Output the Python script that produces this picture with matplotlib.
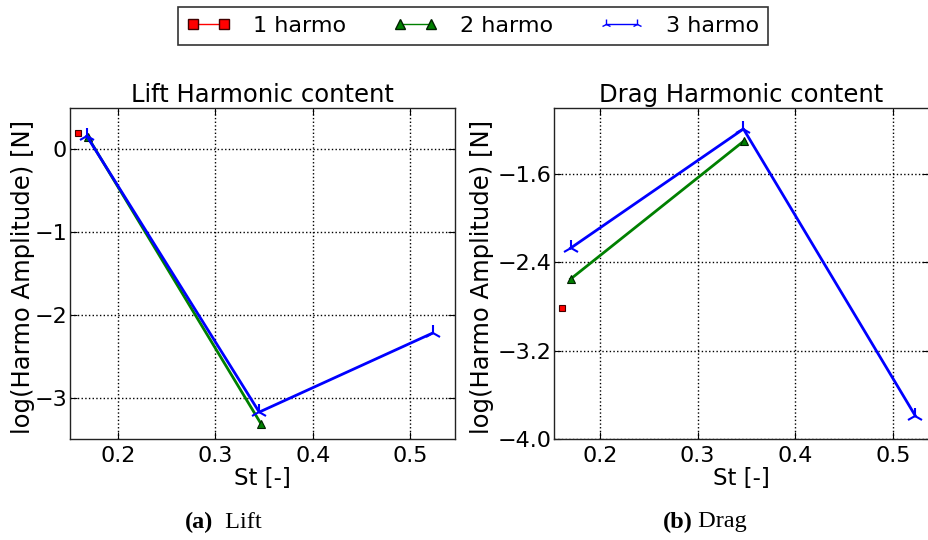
import matplotlib
matplotlib.use("Agg")
import matplotlib.pyplot as plt
from matplotlib.lines import Line2D

# ---- data ----
labels = ["1 harmo", "2 harmo", "3 harmo"]

lift_st_1 = [0.159]
lift_val_1 = [0.195]
lift_st_2 = [0.169, 0.347]
lift_val_2 = [0.15, -3.32]
lift_st_3 = [0.168, 0.345, 0.523]
lift_val_3 = [0.16, -3.175, -2.22]

drag_st_1 = [0.161]
drag_val_1 = [-2.81]
drag_st_2 = [0.170, 0.348]
drag_val_2 = [-2.55, -1.295]
drag_st_3 = [0.170, 0.347, 0.523]
drag_val_3 = [-2.27, -1.19, -3.79]

lift_yticks = [0, -1, -2, -3]
drag_yticks = [-1.6, -2.4, -3.2, -4.0]
xticks = [0.2, 0.3, 0.4, 0.5]

plt.rcParams['font.family'] = ['DejaVu Sans']
FS = 16

W, H = 929, 540
fig = plt.figure(figsize=(W / 100, H / 100), dpi=100)

def px_axes(x0, x1, y0, y1):
    return fig.add_axes([x0 / W, 1 - y1 / H, (x1 - x0) / W, (y1 - y0) / H])

ax1 = px_axes(70, 455, 108, 439)
ax2 = px_axes(554, 929, 108, 439)

styles = [
    dict(color='red', marker='s', markersize=5, markeredgecolor='#400000', markeredgewidth=0.8, lw=1.5),
    dict(color='green', marker='^', markersize=6, markeredgecolor='#002000', markeredgewidth=0.8, lw=2),
    dict(color='blue', marker='2', markersize=12, markeredgewidth=1.5, lw=2),
]

def draw(ax, data, title, ylim, xlim, yticks, yfmt, ylab_x):
    for (xs, ys), st in zip(data, styles):
        ax.plot(xs, ys, **st)
    ax.set_xlim(*xlim)
    ax.set_ylim(*ylim)
    ax.set_xticks(xticks)
    ax.set_xticklabels([f"{t:.1f}" for t in xticks])
    ax.set_yticks(yticks)
    ax.set_yticklabels([yfmt(t).replace('-', '\u2212') for t in yticks])
    ax.grid(True, color='black', linestyle=':', linewidth=1)
    ax.tick_params(direction='in', top=True, right=True, length=5, labelsize=FS)
    ax.tick_params(axis='y', pad=2)
    ax.tick_params(axis='x', pad=5)
    for sp in ax.spines.values():
        sp.set_color('#222222')
        sp.set_linewidth(1)
    ax.set_title(title, fontsize=17.5, pad=4)
    ax.set_xlabel("St [-]", fontsize=16.5, labelpad=1)
    ax.set_ylabel("log(Harmo Amplitude) [N]", fontsize=17.5)
    ax.yaxis.set_label_coords(ylab_x, 0.49)

draw(ax1,
     [(lift_st_1, lift_val_1), (lift_st_2, lift_val_2), (lift_st_3, lift_val_3)],
     "Lift Harmonic content", (-3.5, 0.5), (0.1507, 0.546), lift_yticks,
     lambda t: f"{t:d}", (35 - 70) / 385)
draw(ax2,
     [(drag_st_1, drag_val_1), (drag_st_2, drag_val_2), (drag_st_3, drag_val_3)],
     "Drag Harmonic content", (-4.0, -1.0), (0.153, 0.537), drag_yticks,
     lambda t: f"{t:.1f}", (494 - 554) / 375)

handles = [
    Line2D([], [], color='red', marker='s', markersize=7, markeredgecolor='#400000', lw=1),
    Line2D([], [], color='green', marker='^', markersize=7, markeredgecolor='#002000', lw=1),
    Line2D([], [], color='blue', marker='2', markersize=7, lw=1),
]
leg = fig.legend(handles, labels, loc='center', bbox_to_anchor=(473 / W, 1 - 26 / H),
                 ncol=3, numpoints=2, fontsize=FS, frameon=True, fancybox=False,
                 edgecolor='black', handlelength=2.0, handletextpad=1.0,
                 columnspacing=2.1, borderpad=0.4, borderaxespad=0.0)
leg.get_frame().set_linewidth(1.2)

# captions
CFS = 17.5
for xc, lab, word in [(223, "(a)", "\u2002Lift"), (704, "(b)", " Drag")]:
    t = fig.text(xc / W, 1 - 522 / H, lab + word, fontsize=CFS,
                 family='Liberation Serif', ha='center', va='center', color='white')
    fig.canvas.draw()
    bb = t.get_window_extent()
    t.remove()
    x0 = bb.x0 / W
    ta = fig.text(x0, 1 - 522 / H, lab, fontsize=CFS, family='Liberation Serif',
                  fontweight='bold', ha='left', va='center')
    fig.canvas.draw()
    bb2 = ta.get_window_extent()
    fig.text(bb2.x1 / W, 1 - 522 / H, word, fontsize=CFS, family='Liberation Serif',
             ha='left', va='center')

fig.savefig("out.png", dpi=100)
